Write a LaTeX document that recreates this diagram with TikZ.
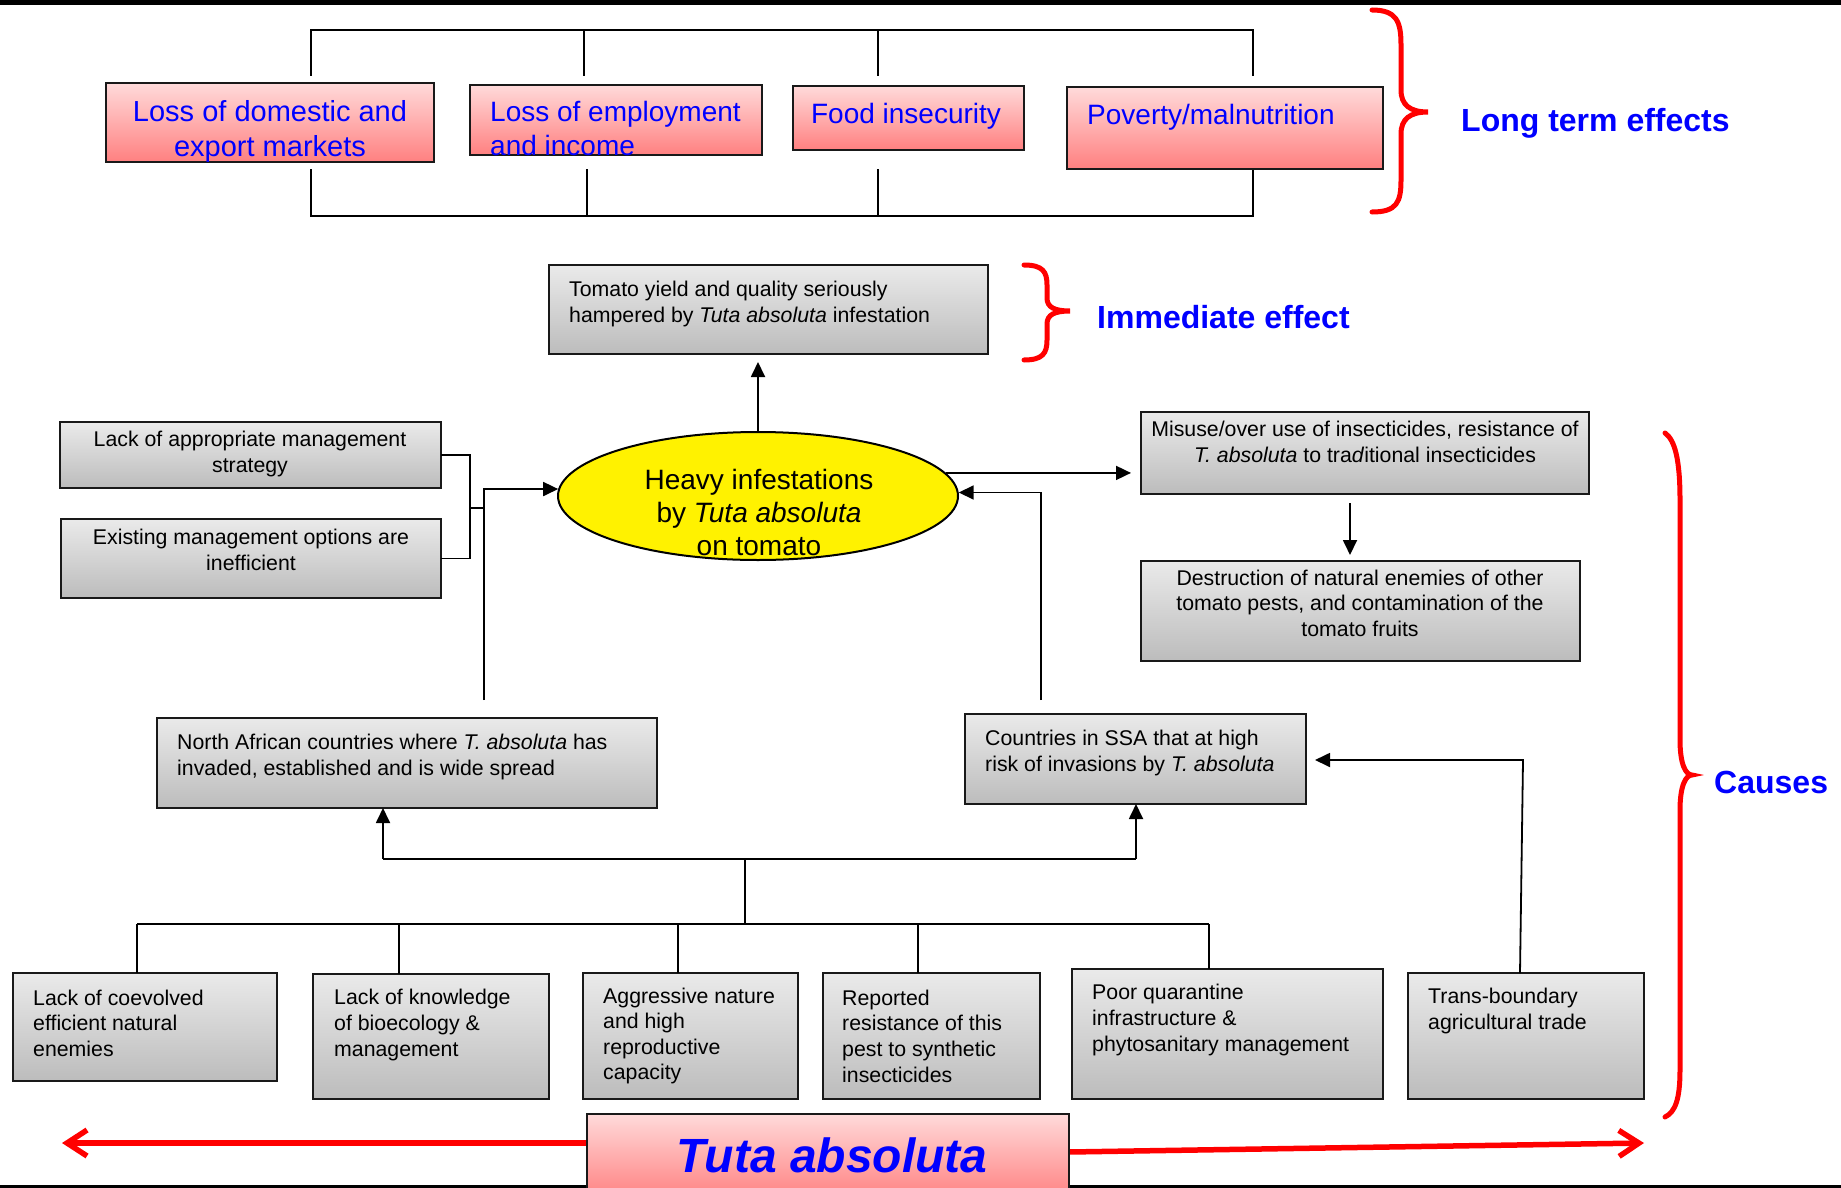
\documentclass[tikz,border=0pt]{standalone}
\usepackage{fontspec}
\setmainfont{Liberation Sans}
\usetikzlibrary{arrows.meta,shapes.geometric,calc}
\definecolor{gtop}{RGB}{234,234,234}
\definecolor{gbot}{RGB}{188,188,188}
\definecolor{ptop}{RGB}{255,218,218}
\definecolor{pbot}{RGB}{255,128,128}
\definecolor{tblue}{RGB}{0,0,255}
\definecolor{bred}{RGB}{255,0,0}
\begin{document}
\begin{tikzpicture}[x=1pt,y=-1pt,
  gbox/.style={draw=black!90, line width=2.2pt, top color=gtop, bottom color=gbot, anchor=north west, inner sep=0pt, outer sep=0pt},
  pbox/.style={gbox, top color=ptop, bottom color=pbot},
  gtxt/.style={font=\fontsize{21.3}{25.6}\selectfont, inner sep=0pt, align=left},
  gtxtc/.style={gtxt, align=center},
  btxt/.style={font=\fontsize{28}{34}\selectfont, text=tblue, inner sep=0pt, align=left},
  lbl/.style={font=\fontsize{32}{36}\selectfont\bfseries, text=tblue, inner sep=0pt, anchor=west},
  conn/.style={draw=black, line width=1.8pt},
  arr/.style={conn, -{Triangle[length=15pt,width=14pt]}},
  brace/.style={draw=bred, line width=5pt, line cap=round},
  redarr/.style={draw=bred, line width=5.5pt, -{Straight Barb[length=20pt,width=26pt]}}
]
\useasboundingbox (0,0) rectangle (1841,1188);
\fill[white] (0,0) rectangle (1841,1188);
\fill[black] (0,0) rectangle (1841,5);
\fill[black] (0,1185) rectangle (1841,1188);

% ---- long term effects ----
\draw[conn] (311,76) -- (311,30) -- (1253,30) -- (1253,76);
\draw[conn] (584,30) -- (584,76);
\draw[conn] (878,30) -- (878,76);
\draw[conn] (311,169) -- (311,216) -- (1253,216) -- (1253,169);
\draw[conn] (587,169) -- (587,216);
\draw[conn] (878,169) -- (878,216);

\node[pbox, minimum width=328pt, minimum height=79pt] (b1) at (106,83) {};
\node[pbox, minimum width=292pt, minimum height=70pt] (b2) at (470,85) {};
\node[pbox, minimum width=231pt, minimum height=64pt] (b3) at (793,86) {};
\node[pbox, minimum width=316pt, minimum height=82pt] (b4) at (1067,87) {};
\node[btxt, align=center, font=\fontsize{29}{35}\selectfont] (b1t) at (270,132) {Loss of domestic and\\export markets};
\node[btxt, anchor=west] (b2t) at (490,128) {Loss of employment\\and income};
\node[btxt] (b3t) at (906,116) {Food insecurity};
\node[btxt, anchor=west] (b4t) at (1087,117) {Poverty/malnutrition};

\draw[brace] (1372,10) .. controls (1397,10) and (1401,22) .. (1401,45) -- (1401,90) .. controls (1401,105) and (1410,112) .. (1428,112) .. controls (1410,112) and (1401,119) .. (1401,134) -- (1401,180) .. controls (1401,202) and (1397,212) .. (1372,212);
\node[lbl] (ltl) at (1461,123) {Long term effects};

% ---- immediate effect ----
\node[gbox, minimum width=439pt, minimum height=89pt] (tomato) at (549,265) {};
\node[gtxt, anchor=west] (tomatot) at (569,304) {Tomato yield and quality seriously\\hampered by \textit{Tuta absoluta} infestation};
\draw[brace] (1024,265) .. controls (1043,265) and (1047,272) .. (1047,285) -- (1047,298) .. controls (1047,307) and (1054,311) .. (1070,311) .. controls (1054,311) and (1047,315) .. (1047,324) -- (1047,340) .. controls (1047,353) and (1043,360) .. (1024,360);
\node[lbl] (iel) at (1097,317) {Immediate effect};

% ---- central ellipse ----
\node[ellipse, draw=black, line width=2pt, fill=yellow, minimum width=400pt, minimum height=128pt, inner sep=0pt] (ell) at (758,496) {};
\node[font=\fontsize{28}{33}\selectfont, align=center, inner sep=0pt] (ellt) at (759,512) {Heavy infestations\\by \textit{Tuta absoluta}\\on tomato};
\draw[arr, shorten >=8pt] (ell.north) -- (ell.north |- tomato.south);

% ---- left management boxes ----
\node[gbox, minimum width=381pt, minimum height=66pt] (lack) at (60,422) {};
\node[gtxtc] (lackt) at (250,454) {Lack of appropriate management\\strategy};
\node[gbox, minimum width=380pt, minimum height=79pt] (exist) at (61,519) {};
\node[gtxtc] (existt) at (251,550) {Existing management options are\\inefficient};
\coordinate (lj) at (470,508);
\draw[conn] (lack.east) -| (lj) |- (exist.east);
\draw[conn] (lj) -- (484,508);
\coordinate (nup) at (484,700);
\draw[arr] (nup) |- (ell.178);

% ---- right insecticide boxes ----
\node[gbox, minimum width=448pt, minimum height=82pt] (misuse) at (1141,412) {};
\node[gtxtc] (misuset) at (1365,442) {Misuse/over use of insecticides, resistance of\\\textit{T. absoluta} to tra\textit{d}itional insecticides};
\node[gbox, minimum width=439pt, minimum height=100pt] (destr) at (1141,561) {};
\node[gtxtc] (destrt) at (1360,603) {Destruction of natural enemies of other\\tomato pests, and contamination of the\\tomato fruits};
\draw[arr, shorten >=10pt] (ell.7) -- (ell.7 -| misuse.west);
\draw[arr, shorten <=9pt, shorten >=6pt] ($(misuse.south)+(-15,0)$) -- ($(misuse.south)+(-15,67)$);

% ---- countries ----
\node[gbox, minimum width=500pt, minimum height=90pt] (north) at (157,718) {};
\node[gtxt, anchor=west] (northt) at (177,757) {North African countries where \textit{T. absoluta} has\\invaded, established and is wide spread};
\node[gbox, minimum width=341pt, minimum height=90pt] (ssa) at (965,714) {};
\node[gtxt, anchor=west] (ssat) at (985,753) {Countries in SSA that at high\\risk of invasions by \textit{T. absoluta}};
\coordinate (sup) at (1041,700);
\draw[arr] (sup) |- (ell.1);

% ---- bottom causes ----
\node[gbox, minimum width=264pt, minimum height=108pt] (c1) at (13,973) {};
\node[gtxt, anchor=west] (c1t) at (33,1023) {Lack of coevolved\\efficient natural\\enemies};
\node[gbox, minimum width=236pt, minimum height=125pt] (c2) at (313,974) {};
\node[gtxt, anchor=west] (c2t) at (334,1025) {Lack of knowledge\\of bioecology \&\\management};
\node[gbox, minimum width=215pt, minimum height=126pt] (c3) at (583,973) {};
\node[gtxt, anchor=west] (c3t) at (603,1036) {Aggressive nature\\and high\\reproductive\\capacity};
\node[gbox, minimum width=217pt, minimum height=126pt] (c4) at (823,973) {};
\node[gtxt, anchor=west] (c4t) at (842,1036) {Reported\\resistance of this\\pest to synthetic\\insecticides};
\node[gbox, minimum width=311pt, minimum height=130pt] (c5) at (1072,969) {};
\node[gtxt, anchor=west] (c5t) at (1092,1020) {Poor quarantine\\infrastructure \&\\phytosanitary management};
\node[gbox, minimum width=236pt, minimum height=126pt] (c6) at (1408,973) {};
\node[gtxt, anchor=west] (c6t) at (1428,1011) {Trans-boundary\\agricultural trade};

\draw[conn] (137,924) -- (1209,924);
\foreach \xx/\bb in {137/c1, 399/c2, 678/c3, 918/c4, 1209/c5}{
  \coordinate (tmp) at (\xx,924);
  \draw[conn] (tmp) -- (tmp |- \bb.north);
}
\draw[conn] (745,924) -- (745,859);
\draw[conn] (383,859) -- (1136,859);
\coordinate (na) at (383,859);
\coordinate (sa) at (1136,859);
\draw[arr] (na) -- (na |- north.south);
\draw[arr] (sa) -- (sa |- ssa.south);
\coordinate (tb) at (1523,760);
\draw[arr, shorten >=9pt] ($(c6.north west)+(112,0)$) -- (tb) -- (tb -| ssa.east);

\draw[brace] (1665,433) .. controls (1675,440) and (1680,460) .. (1680,500) -- (1680,740) .. controls (1680,765) and (1686,775) .. (1692,775) .. controls (1686,775) and (1680,785) .. (1680,810) -- (1680,1070) .. controls (1680,1100) and (1675,1112) .. (1665,1117);
\node[lbl] (cl) at (1714,782) {Causes};

% ---- Tuta absoluta ----
\draw[redarr] (587,1143) -- (62,1143);
\draw[redarr] (1069,1152) -- (1644,1143);
\node[pbox, minimum width=482pt, minimum height=86pt] (tuta) at (587,1114) {};
\node[font=\fontsize{48}{50}\selectfont\bfseries\itshape, text=tblue, inner sep=0pt] (tutat) at (832,1155) {Tuta absoluta};
\end{tikzpicture}
\end{document}
